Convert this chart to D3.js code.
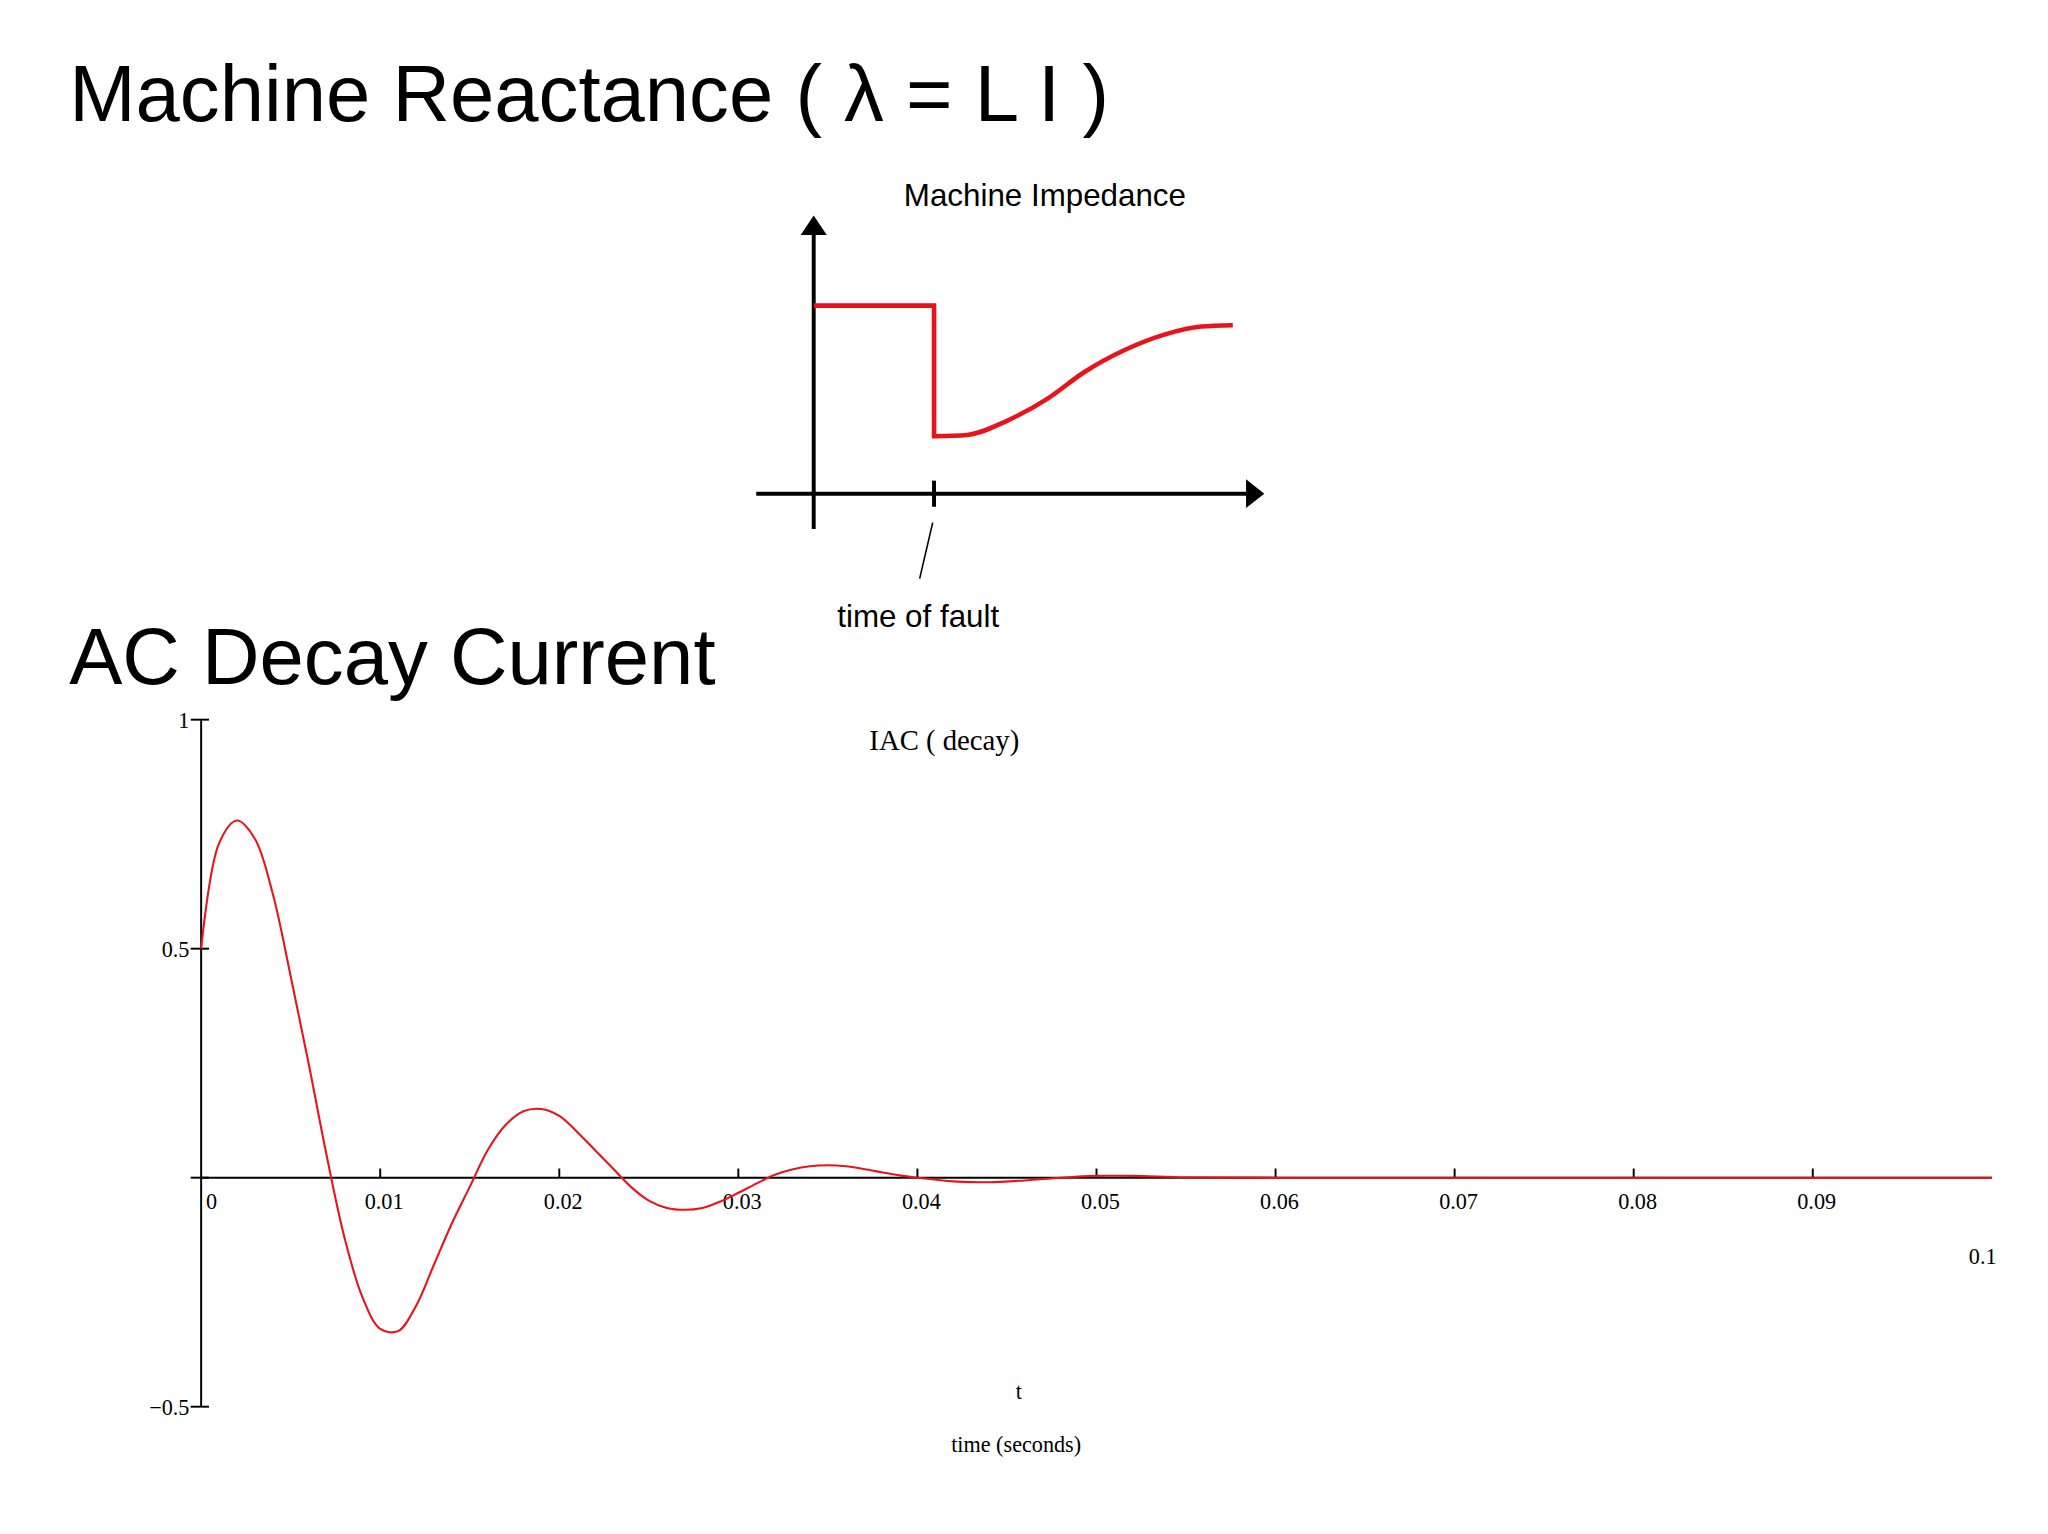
<!DOCTYPE html>
<html><head><meta charset="utf-8">
<script src="https://cdn.jsdelivr.net/npm/d3@7"></script>
<style>body{margin:0;background:#fff}</style></head>
<body><svg id="c" width="2048" height="1534"></svg>
<script>
// Data
const decayT = [0,0.001,0.002,0.003,0.004,0.005,0.006,0.007,0.008,0.009,0.010,0.011,0.012,0.013,0.014,0.015,0.016,0.017,0.018,0.019,0.020,0.021,0.022,0.023,0.024,0.025,0.026,0.027,0.028,0.029,0.030,0.031,0.032,0.033,0.034,0.035,0.036,0.037,0.038,0.039,0.040,0.042,0.044,0.046,0.048,0.050,0.052,0.055,0.060,0.070,0.080,0.090,0.100];
const decayV = [0.50,0.73,0.78,0.74,0.62,0.44,0.25,0.05,-0.13,-0.26,-0.33,-0.335,-0.28,-0.19,-0.10,-0.02,0.06,0.115,0.145,0.15,0.135,0.10,0.06,0.02,-0.02,-0.05,-0.066,-0.07,-0.066,-0.052,-0.033,-0.013,0.006,0.018,0.025,0.027,0.025,0.019,0.012,0.005,0,-0.008,-0.01,-0.006,0,0.004,0.004,0.001,0,0,0,0,0];
const xTicks = [0,0.01,0.02,0.03,0.04,0.05,0.06,0.07,0.08,0.09];
const xTickLabels = ["0","0.01","0.02","0.03","0.04","0.05","0.06","0.07","0.08","0.09"];
const yTicks = [1,0.5,0,-0.5];
const yTickLabels = ["1","0.5","","\u22120.5"];
// machine impedance diagram (arbitrary units)
const impT = [0,26.7,26.7,34,43,52,60,69,78,86,93];
const impV = [1,1,0,0.01,0.12,0.29,0.49,0.66,0.78,0.84,0.85];
const faultT = 26.7;

const S = 2048/1568;
const svg = d3.select("#c");
const g = svg.append("g").attr("transform",`scale(${S})`);
const sans = "Liberation Sans, Arial, sans-serif", serif = "Liberation Serif, Times New Roman, serif";

g.append("text").attr("x",53).attr("y",93).attr("font-family",sans).attr("font-size",61).text("Machine Reactance ( \u03bb = L I )");
g.append("text").attr("x",53).attr("y",524).attr("font-family",sans).attr("font-size",61).text("AC Decay Current");

// top diagram
const ix = d3.scaleLinear().domain([0,100]).range([623,968]);
const iy = d3.scaleLinear().domain([0,1]).range([334,234]);
const ax0 = iy(-0.44);
g.append("line").attr("x1",623).attr("x2",623).attr("y1",405).attr("y2",178).attr("stroke","#000").attr("stroke-width",3);
g.append("path").attr("d","M613,180L623,165L633,180Z").attr("fill","#000");
g.append("line").attr("x1",579).attr("x2",958).attr("y1",ax0).attr("y2",ax0).attr("stroke","#000").attr("stroke-width",3);
g.append("path").attr("d",`M954,${ax0-11}L968,${ax0}L954,${ax0+11}Z`).attr("fill","#000");
g.append("line").attr("x1",ix(faultT)).attr("x2",ix(faultT)).attr("y1",ax0-10).attr("y2",ax0+10).attr("stroke","#000").attr("stroke-width",3);
g.append("line").attr("x1",ix(faultT)-1).attr("x2",ix(faultT)-11).attr("y1",ax0+22).attr("y2",ax0+65).attr("stroke","#000").attr("stroke-width",1.2);
const pts = impT.map((t,i)=>[t,impV[i]]);
g.append("path").attr("d",d3.line().x(d=>ix(d[0])).y(d=>iy(d[1])).curve(d3.curveLinear)(pts.slice(0,3))+
  d3.line().x(d=>ix(d[0])).y(d=>iy(d[1])).curve(d3.curveMonotoneX)(pts.slice(2)).replace(/^M/,"L"))
  .attr("fill","none").attr("stroke","#e8141c").attr("stroke-width",3.5);
g.append("text").attr("x",800).attr("y",158).attr("text-anchor","middle").attr("font-family",sans).attr("font-size",24).text("Machine Impedance");
g.append("text").attr("x",703).attr("y",480).attr("text-anchor","middle").attr("font-family",sans).attr("font-size",24).text("time of fault");

// bottom chart
const x = d3.scaleLinear().domain([0,0.1]).range([154,1525]);
const y = d3.scaleLinear().domain([-0.5,1]).range([1077,551]);
g.append("line").attr("x1",x(0)).attr("x2",x(0)).attr("y1",y(1)).attr("y2",y(-0.5)).attr("stroke","#000").attr("stroke-width",1.5);
g.append("line").attr("x1",x(0)).attr("x2",x(0.1)).attr("y1",y(0)).attr("y2",y(0)).attr("stroke","#000").attr("stroke-width",1.5);
yTicks.forEach((v,i)=>{
  g.append("line").attr("x1",x(0)-8).attr("x2",x(0)+6).attr("y1",y(v)).attr("y2",y(v)).attr("stroke","#000").attr("stroke-width",1.5);
  g.append("text").attr("x",x(0)-9).attr("y",y(v)+6).attr("text-anchor","end").attr("font-family",serif).attr("font-size",17).text(yTickLabels[i]);
});
xTicks.forEach((v,i)=>{
  if(v>0) g.append("line").attr("x1",x(v)).attr("x2",x(v)).attr("y1",y(0)-7).attr("y2",y(0)).attr("stroke","#000").attr("stroke-width",1.5);
  g.append("text").attr("x",v===0?x(v)+8:x(v)+3).attr("y",y(0)+24).attr("text-anchor","middle").attr("font-family",serif).attr("font-size",17).text(xTickLabels[i]);
});
g.append("text").attr("x",1518).attr("y",968).attr("text-anchor","middle").attr("font-family",serif).attr("font-size",17).text("0.1");
g.append("path").datum(decayT.map((t,i)=>[t,decayV[i]]))
  .attr("d",d3.line().x(d=>x(d[0])).y(d=>y(d[1])).curve(d3.curveCatmullRom))
  .attr("fill","none").attr("stroke","#e8141c").attr("stroke-width",1.6);
g.append("text").attr("x",723).attr("y",574).attr("text-anchor","middle").attr("font-family",serif).attr("font-size",22).text("IAC ( decay)");
g.append("text").attr("x",780).attr("y",1071).attr("text-anchor","middle").attr("font-family",serif).attr("font-size",17).text("t");
g.append("text").attr("x",778).attr("y",1112).attr("text-anchor","middle").attr("font-family",serif).attr("font-size",17).text("time (seconds)");
</script></body></html>
